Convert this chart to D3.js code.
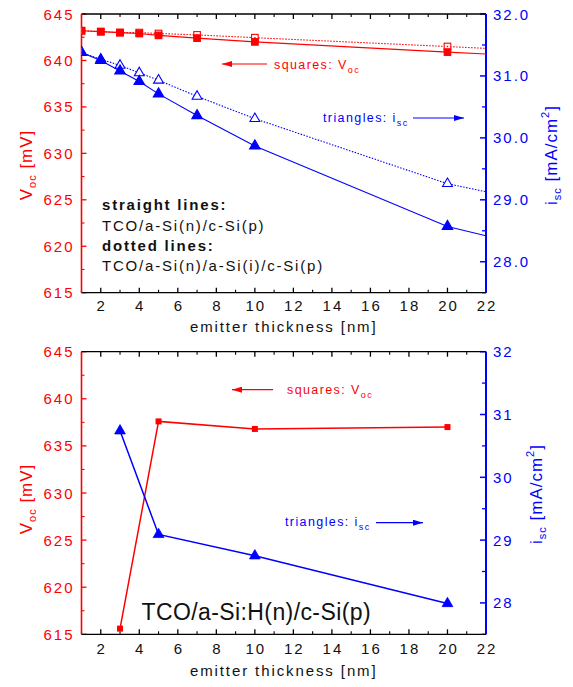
<!DOCTYPE html>
<html>
<head>
<meta charset="utf-8">
<script src="https://cdn.jsdelivr.net/npm/d3@7/dist/d3.min.js"></script>
<style>
  body { margin: 0; background: #fff; }
  text { font-family: "Liberation Sans", Arial, sans-serif; }
</style>
</head>
<body>
<svg id="chart" width="573" height="687"></svg>
<script>
// ---- data ----
// top panel: measured points plus the end of each fitted line at 22 nm
var thicknessTop = [1, 2, 3, 4, 5, 7, 10, 20];
var fitEndX = 22;
var vocStraight = [643.2, 643.1, 643.0, 642.9, 642.7, 642.4, 642.0, 640.9];
var vocStraightEnd = 640.7;
var vocDotted = [643.2, 643.1, 643.0, 643.0, 642.9, 642.75, 642.45, 641.5];
var vocDottedEnd = 641.3;
var iscStraight = [31.38, 31.25, 31.08, 30.91, 30.71, 30.36, 29.87, 28.57];
var iscStraightEnd = 28.42;
var iscDotted = [31.38, 31.27, 31.17, 31.05, 30.93, 30.67, 30.31, 29.26];
var iscDottedEnd = 29.13;

// bottom panel
var thicknessBottom = [3, 5, 10, 20];
var vocBottom = [615.6, 637.6, 636.8, 637.0];
var iscBottom = [30.74, 29.09, 28.75, 27.99];

// axes
var xDomain = [1, 22];
var xTicks = [2, 4, 6, 8, 10, 12, 14, 16, 18, 20, 22];
var vocDomain = [615, 645];
var vocTicks = [615, 620, 625, 630, 635, 640, 645];
var iscDomain = [27.5, 32];
var iscTicksTop = [28, 29, 30, 31, 32];
var iscTicksBottom = [28, 29, 30, 31, 32];

var RED = '#ff0000', BLUE = '#0000ff';

var svg = d3.select('#chart');

// arrow heads for the little legend arrows
var defs = svg.append('defs');
[['arrRed', RED], ['arrBlue', BLUE]].forEach(function (a) {
	defs.append('marker')
		.attr('id', a[0])
		.attr('viewBox', '0 0 10 6')
		.attr('refX', 10).attr('refY', 3)
		.attr('markerWidth', 10).attr('markerHeight', 6)
		.attr('markerUnits', 'userSpaceOnUse')
		.attr('orient', 'auto')
		.append('path')
		.attr('d', 'M0,0L10,3L0,6Z')
		.attr('fill', a[1]);
});

/**
 * 画一个面板的框、坐标轴、刻度
 */
function drawFrame(p, iscTicks, iscFmt) {
	var g = svg.append('g');
	var x = p.x, yL = p.yL, yR = p.yR;

	// minor ticks
	var xMinor = d3.range(1, 23, 1).filter(function (d) { return d % 2 === 1; });
	var vocMinor = d3.range(617.5, 645, 5);
	var iscMinor = d3.range(27.5, 32, 1);

	// bottom + top ticks (inward)
	xTicks.forEach(function (d) {
		g.append('line').attr('x1', x(d)).attr('x2', x(d)).attr('y1', p.bottom).attr('y2', p.bottom - 5).attr('stroke', '#000').attr('stroke-width', 1.3);
		g.append('line').attr('x1', x(d)).attr('x2', x(d)).attr('y1', p.top).attr('y2', p.top + 5).attr('stroke', '#000').attr('stroke-width', 1.3);
	});
	xMinor.forEach(function (d) {
		g.append('line').attr('x1', x(d)).attr('x2', x(d)).attr('y1', p.bottom).attr('y2', p.bottom - 3).attr('stroke', '#000').attr('stroke-width', 1.1);
		g.append('line').attr('x1', x(d)).attr('x2', x(d)).attr('y1', p.top).attr('y2', p.top + 3).attr('stroke', '#000').attr('stroke-width', 1.1);
	});
	vocTicks.forEach(function (d) {
		g.append('line').attr('x1', p.left).attr('x2', p.left + 5).attr('y1', yL(d)).attr('y2', yL(d)).attr('stroke', RED).attr('stroke-width', 1.3);
	});
	vocMinor.forEach(function (d) {
		g.append('line').attr('x1', p.left).attr('x2', p.left + 3).attr('y1', yL(d)).attr('y2', yL(d)).attr('stroke', RED).attr('stroke-width', 1.1);
	});
	iscTicks.forEach(function (d) {
		g.append('line').attr('x1', p.right).attr('x2', p.right - 6).attr('y1', yR(d)).attr('y2', yR(d)).attr('stroke', BLUE).attr('stroke-width', 1.5);
	});
	iscMinor.forEach(function (d) {
		g.append('line').attr('x1', p.right).attr('x2', p.right - 4).attr('y1', yR(d)).attr('y2', yR(d)).attr('stroke', BLUE).attr('stroke-width', 1.3);
	});

	// frame
	g.append('line').attr('x1', p.left).attr('x2', p.right).attr('y1', p.top).attr('y2', p.top).attr('stroke', '#000').attr('stroke-width', 1.3);
	g.append('line').attr('x1', p.left).attr('x2', p.right).attr('y1', p.bottom).attr('y2', p.bottom).attr('stroke', '#000').attr('stroke-width', 1.3);
	g.append('line').attr('x1', p.left).attr('x2', p.left).attr('y1', p.top).attr('y2', p.bottom).attr('stroke', RED).attr('stroke-width', 1.6);
	g.append('line').attr('x1', p.right).attr('x2', p.right).attr('y1', p.top).attr('y2', p.bottom).attr('stroke', BLUE).attr('stroke-width', 2);

	// tick labels
	xTicks.forEach(function (d) {
		g.append('text').attr('x', x(d) + 1).attr('y', p.bottom + p.xLabelDy)
			.attr('text-anchor', 'middle').attr('font-size', 15).attr('letter-spacing', 2)
			.attr('fill', '#111').text(d);
	});
	vocTicks.forEach(function (d) {
		g.append('text').attr('x', p.left - 7).attr('y', yL(d) + 5.5)
			.attr('text-anchor', 'end').attr('font-size', 15).attr('letter-spacing', 2)
			.attr('fill', RED).text(d);
	});
	iscTicks.forEach(function (d) {
		g.append('text').attr('x', p.right + 7).attr('y', yR(d) + 5.5)
			.attr('font-size', 15).attr('letter-spacing', 2)
			.attr('fill', BLUE).text(iscFmt(d));
	});

	// axis titles
	g.append('text').attr('x', (p.left + p.right) / 2).attr('y', p.bottom + p.titleDy)
		.attr('text-anchor', 'middle').attr('font-size', 15).attr('letter-spacing', 1.9)
		.attr('fill', '#111').text('emitter thickness [nm]');

	var lt = g.append('text').attr('transform', 'translate(' + p.leftTitleX + ',' + p.leftTitleY + ') rotate(-90)')
		.attr('text-anchor', 'middle').attr('font-size', 17).attr('letter-spacing', 1).attr('fill', RED);
	lt.append('tspan').text('V');
	lt.append('tspan').attr('font-size', 11).attr('dy', 4).text('oc');
	lt.append('tspan').attr('dy', -4).text(' [mV]');

	var rt = g.append('text').attr('transform', 'translate(' + p.rightTitleX + ',' + p.rightTitleY + ') rotate(-90)')
		.attr('text-anchor', 'middle').attr('font-size', 17).attr('letter-spacing', 1).attr('fill', BLUE);
	rt.append('tspan').text('i');
	rt.append('tspan').attr('font-size', 11).attr('dy', 4).text('sc');
	rt.append('tspan').attr('dy', -4).text(' [mA/cm');
	rt.append('tspan').attr('font-size', 11).attr('dy', -8).text('2');
	rt.append('tspan').attr('dy', 8).text(']');

	return g;
}

function makePanel(top, bottom) {
	var p = { left: 81.5, right: 486, top: top, bottom: bottom };
	p.x = d3.scaleLinear().domain(xDomain).range([p.left, p.right]);
	p.yL = d3.scaleLinear().domain(vocDomain).range([p.bottom, p.top]);
	p.yR = d3.scaleLinear().domain(iscDomain).range([p.bottom, p.top]);
	return p;
}

function clipFor(p, id) {
	defs.append('clipPath').attr('id', id).append('rect')
		.attr('x', p.left).attr('y', p.top).attr('width', p.right - p.left).attr('height', p.bottom - p.top);
	return 'url(#' + id + ')';
}

function legendArrow(g, x1, x2, y, color, id) {
	g.append('line').attr('x1', x1).attr('x2', x2).attr('y1', y).attr('y2', y)
		.attr('stroke', color).attr('stroke-width', 1.2).attr('marker-end', 'url(#' + id + ')');
}

function legendText(g, x, y, size, color, main, sub) {
	var t = g.append('text').attr('x', x).attr('y', y).attr('font-size', size)
		.attr('letter-spacing', 1.4).attr('fill', color);
	t.append('tspan').text(main);
	t.append('tspan').attr('font-size', size * 0.72).attr('dy', 4).text(sub);
}

// ================= top panel =================
var pTop = makePanel(14, 292.7);
pTop.xLabelDy = 18; pTop.titleDy = 39;
pTop.leftTitleX = 32; pTop.leftTitleY = 165;
pTop.rightTitleX = 557; pTop.rightTitleY = 155;
var gTop = drawFrame(pTop, iscTicksTop, d3.format('.1f'));
var clipTop = clipFor(pTop, 'clipTop');

function seriesPts(xs, ys, endY) {
	var pts = xs.map(function (d, i) { return [d, ys[i]]; });
	pts.push([fitEndX, endY]);
	return pts;
}

var tri = d3.symbol().type(d3.symbolTriangle);
var topSeries = [
	{ v: vocDotted, end: vocDottedEnd, axis: 'yL', color: RED, dash: '1.5,1.5', shape: 'sqOpen' },
	{ v: iscDotted, end: iscDottedEnd, axis: 'yR', color: BLUE, dash: '1.5,1.5', shape: 'triOpen' },
	{ v: vocStraight, end: vocStraightEnd, axis: 'yL', color: RED, dash: null, shape: 'sq' },
	{ v: iscStraight, end: iscStraightEnd, axis: 'yR', color: BLUE, dash: null, shape: 'tri' }
];

topSeries.forEach(function (s) {
	var ys = pTop[s.axis];
	var line = d3.line().x(function (d) { return pTop.x(d[0]); }).y(function (d) { return ys(d[1]); });
	gTop.append('path').attr('d', line(seriesPts(thicknessTop, s.v, s.end)))
		.attr('fill', 'none').attr('stroke', s.color).attr('stroke-width', 1.1)
		.attr('stroke-dasharray', s.dash).attr('clip-path', clipTop);

	var mg = gTop.append('g').attr('clip-path', clipTop);
	thicknessTop.forEach(function (d, i) {
		var cx = pTop.x(d), cy = ys(s.v[i]);
		if (s.shape === 'sq' || s.shape === 'sqOpen') {
			var open = s.shape === 'sqOpen';
			mg.append('rect').attr('x', cx - 3.3).attr('y', cy - 3.3).attr('width', 6.6).attr('height', 6.6)
				.attr('fill', open ? '#fff' : s.color).attr('stroke', s.color).attr('stroke-width', 1.1);
			if (open) mg.append('rect').attr('x', cx - 0.7).attr('y', cy - 0.7).attr('width', 1.4).attr('height', 1.4).attr('fill', s.color);
		} else {
			var open2 = s.shape === 'triOpen';
			mg.append('path').attr('d', tri.size(open2 ? 42 : 48)())
				.attr('transform', 'translate(' + cx + ',' + cy + ')')
				.attr('fill', open2 ? '#fff' : s.color).attr('stroke', s.color).attr('stroke-width', 1.1);
		}
	});
});

legendArrow(gTop, 267, 222, 64, RED, 'arrRed');
legendText(gTop, 274, 68.5, 12.5, RED, 'squares: V', 'oc');
legendText(gTop, 323, 122, 12.5, BLUE, 'triangles: i', 'sc');
legendArrow(gTop, 413, 464, 118, BLUE, 'arrBlue');

var notes = [
	{ t: 'straight lines:', b: true, y: 210 },
	{ t: 'TCO/a-Si(n)/c-Si(p)', b: false, y: 230.7 },
	{ t: 'dotted lines:', b: true, y: 250.7 },
	{ t: 'TCO/a-Si(n)/a-Si(i)/c-Si(p)', b: false, y: 270.7 }
];
notes.forEach(function (n) {
	gTop.append('text').attr('x', 102).attr('y', n.y).attr('font-size', 15)
		.attr('letter-spacing', 1.8).attr('font-weight', n.b ? 'bold' : 'normal')
		.attr('fill', '#111').text(n.t);
});

// ================= bottom panel =================
var pBot = makePanel(351.7, 634.3);
pBot.xLabelDy = 19.5; pBot.titleDy = 42;
pBot.leftTitleX = 32; pBot.leftTitleY = 499;
pBot.rightTitleX = 542; pBot.rightTitleY = 494;
var gBot = drawFrame(pBot, iscTicksBottom, d3.format('d'));
var clipBot = clipFor(pBot, 'clipBot');

var botSeries = [
	{ v: vocBottom, axis: 'yL', color: RED, shape: 'sq' },
	{ v: iscBottom, axis: 'yR', color: BLUE, shape: 'tri' }
];
botSeries.forEach(function (s) {
	var ys = pBot[s.axis];
	var line = d3.line().x(function (d) { return pBot.x(d); }).y(function (d, i) { return ys(s.v[i]); });
	gBot.append('path').attr('d', line(thicknessBottom))
		.attr('fill', 'none').attr('stroke', s.color).attr('stroke-width', 1.5).attr('clip-path', clipBot);
	thicknessBottom.forEach(function (d, i) {
		var cx = pBot.x(d), cy = ys(s.v[i]);
		if (s.shape === 'sq') {
			gBot.append('rect').attr('x', cx - 3).attr('y', cy - 3).attr('width', 6).attr('height', 6).attr('fill', s.color);
		} else {
			gBot.append('path').attr('d', tri.size(50)()).attr('transform', 'translate(' + cx + ',' + cy + ')')
				.attr('fill', s.color).attr('stroke', s.color).attr('stroke-width', 0.8);
		}
	});
});

legendArrow(gBot, 273, 232, 389.7, RED, 'arrRed');
legendText(gBot, 287, 393.5, 12.5, RED, 'squares: V', 'oc');
legendText(gBot, 285, 526, 12.5, BLUE, 'triangles: i', 'sc');
legendArrow(gBot, 376, 423, 522.7, BLUE, 'arrBlue');

gBot.append('text').attr('x', 141.5).attr('y', 620).attr('font-size', 23)
	.attr('letter-spacing', 0.4).attr('fill', '#111').text('TCO/a-Si:H(n)/c-Si(p)');
</script>
</body>
</html>
